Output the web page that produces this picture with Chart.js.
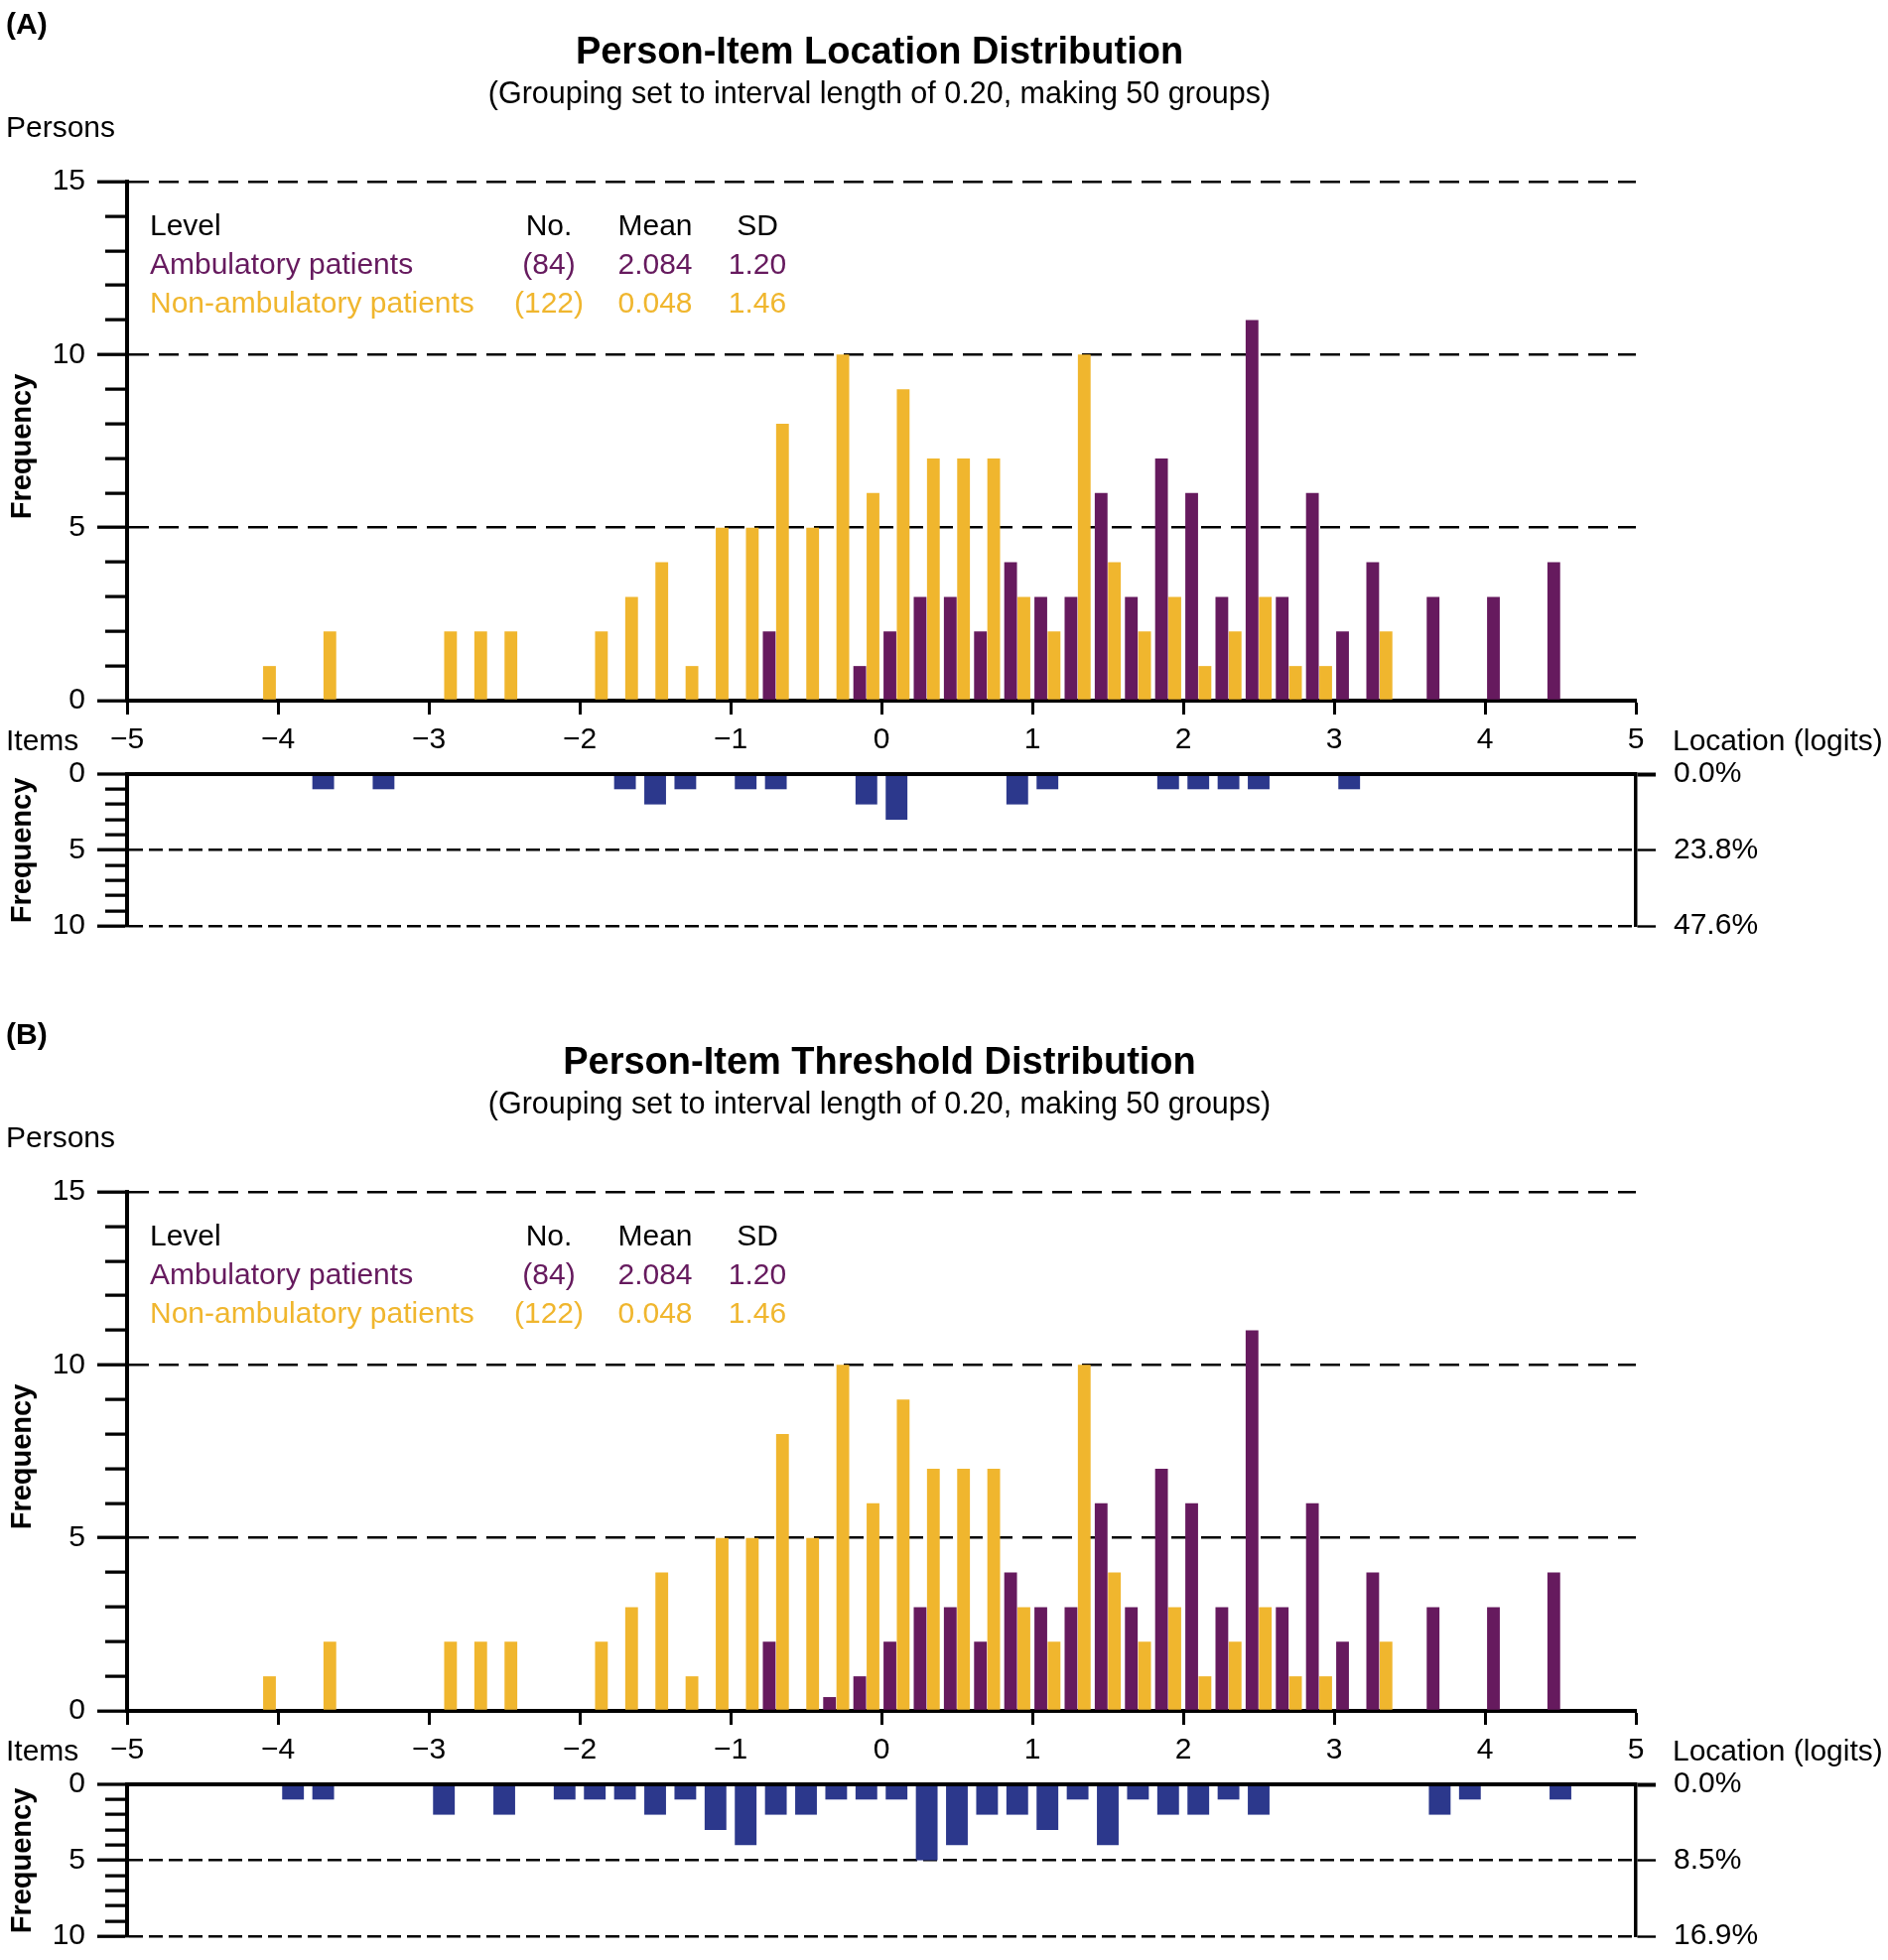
<!DOCTYPE html>
<html>
<head>
<meta charset="utf-8">
<title>Person-Item Distribution</title>
<script src="https://cdn.jsdelivr.net/npm/chart.js@4.4.1/dist/chart.umd.min.js"></script>
<style>
  body { margin: 0; background: #fff; }
  #page { position: relative; width: 1902px; height: 1975px; background: #fff; overflow: hidden;
          font-family: "Liberation Sans", Arial, Helvetica, sans-serif; color: #000; }
  .panel { position: absolute; left: 0; width: 1902px; height: 1018px; }
  .panel canvas { position: absolute; left: 0; }
  .t { position: absolute; white-space: nowrap; line-height: 1; transform: translateY(-50%); font-size: 30px; }
  .c { transform: translate(-50%, -50%); }
  .b { font-weight: bold; }
  .rot { font-weight: bold; font-size: 29px; transform: translate(-50%, -50%) rotate(-90deg); }
</style>
</head>
<body>
<div id="page"></div>
<script>
// 50 groups of 0.2 logits between -5 and 5 (group centres)
const bins = [-4.9, -4.7, -4.5, -4.3, -4.1, -3.9, -3.7, -3.5, -3.3, -3.1,
              -2.9, -2.7, -2.5, -2.3, -2.1, -1.9, -1.7, -1.5, -1.3, -1.1,
              -0.9, -0.7, -0.5, -0.3, -0.1, 0.1, 0.3, 0.5, 0.7, 0.9,
              1.1, 1.3, 1.5, 1.7, 1.9, 2.1, 2.3, 2.5, 2.7, 2.9,
              3.1, 3.3, 3.5, 3.7, 3.9, 4.1, 4.3, 4.5, 4.7, 4.9];

const ambulatoryA = [0, 0, 0, 0, 0, 0, 0, 0, 0, 0,
                     0, 0, 0, 0, 0, 0, 0, 0, 0, 0,
                     0, 2, 0, 0, 1, 2, 3, 3, 2, 4,
                     3, 3, 6, 3, 7, 6, 3, 11, 3, 6,
                     2, 4, 0, 3, 0, 3, 0, 4, 0, 0];
// same persons, panel B shows a small sliver at -0.3
const ambulatoryB = [0, 0, 0, 0, 0, 0, 0, 0, 0, 0,
                     0, 0, 0, 0, 0, 0, 0, 0, 0, 0,
                     0, 2, 0, 0.4, 1, 2, 3, 3, 2, 4,
                     3, 3, 6, 3, 7, 6, 3, 11, 3, 6,
                     2, 4, 0, 3, 0, 3, 0, 4, 0, 0];
const nonAmbulatory = [0, 0, 0, 0, 1, 0, 2, 0, 0, 0,
                       2, 2, 2, 0, 0, 2, 3, 4, 1, 5,
                       5, 8, 5, 10, 6, 9, 7, 7, 7, 3,
                       2, 10, 4, 2, 3, 1, 2, 3, 1, 1,
                       0, 2, 0, 0, 0, 0, 0, 0, 0, 0];

const itemsA = [0, 0, 0, 0, 0, 0, 1, 0, 1, 0,
                0, 0, 0, 0, 0, 0, 1, 2, 1, 0,
                1, 1, 0, 0, 2, 3, 0, 0, 0, 2,
                1, 0, 0, 0, 1, 1, 1, 1, 0, 0,
                1, 0, 0, 0, 0, 0, 0, 0, 0, 0];
const itemsB = [0, 0, 0, 0, 0, 1, 1, 0, 0, 0,
                2, 0, 2, 0, 1, 1, 1, 2, 1, 3,
                4, 2, 2, 1, 1, 1, 5, 4, 2, 2,
                3, 1, 4, 1, 2, 2, 1, 2, 0, 0,
                0, 0, 0, 2, 1, 0, 0, 1, 0, 0];

const pctA = ['0.0%', '23.8%', '47.6%'];
const pctB = ['0.0%', '8.5%', '16.9%'];

const groups = ['Ambulatory patients', 'Non-ambulatory patients'];
const groupN = ['(84)', '(122)'];
const groupMean = ['2.084', '0.048'];
const groupSD = ['1.20', '1.46'];

const PURPLE = '#661a5e';
const YELLOW = '#f0b62e';
const BLUE = '#2c388c';
const groupColors = [PURPLE, YELLOW];

Chart.defaults.font.family = '"Liberation Sans", Arial, Helvetica, sans-serif';
Chart.defaults.font.size = 30;
Chart.defaults.color = '#000';
Chart.defaults.animation = false;

const CLEAR = 'rgba(0,0,0,0)';
const isMajor = v => v % 5 === 0;
const logit = v => (v < 0 ? '\u2212' + Math.abs(v) : String(v));
// minor ticks are shorter: blank the outer part of the tick stroke
const tickDash = c => (c.tick && !isMajor(c.tick.value) ? [0, 8, 22, 0] : []);

function text(parent, str, cls, x, y, color) {
  const d = document.createElement('div');
  d.className = 't ' + (cls || '');
  d.textContent = str;
  d.style.left = x + 'px';
  d.style.top = y + 'px';
  if (color) d.style.color = color;
  parent.appendChild(d);
  return d;
}

function canvasAt(parent, top, height) {
  const cv = document.createElement('canvas');
  cv.width = 1902;
  cv.height = height;
  cv.style.top = top + 'px';
  parent.appendChild(cv);
  return cv;
}

function personsChart(canvas, amb, non) {
  return new Chart(canvas, {
    type: 'bar',
    data: {
      datasets: [
        { label: groups[0], data: bins.map((x, i) => ({ x, y: amb[i] })), backgroundColor: PURPLE },
        { label: groups[1], data: bins.map((x, i) => ({ x, y: non[i] })), backgroundColor: YELLOW },
      ],
    },
    options: {
      responsive: false,
      devicePixelRatio: 1,
      categoryPercentage: 0.88,
      barPercentage: 0.96,
      layout: { padding: { top: 183, right: 254, bottom: 0, left: 0 } },
      plugins: { legend: { display: false }, tooltip: { enabled: false } },
      scales: {
        x: {
          type: 'linear', min: -5, max: 5, offset: false, z: 1,
          afterFit: s => { s.height = 64; },
          ticks: { stepSize: 1, padding: 8, maxRotation: 0, autoSkip: false, callback: logit },
          grid: { offset: false, drawOnChartArea: false, tickLength: 14, tickWidth: 3, tickColor: '#000' },
          border: { color: '#000', width: 4 },
        },
        y: {
          min: 0, max: 15,
          afterFit: s => { s.width = 128; },
          ticks: { stepSize: 1, padding: 12, autoSkip: false, callback: v => (isMajor(v) ? v : '') },
          grid: {
            color: c => (c.tick && c.tick.value > 0 && isMajor(c.tick.value) ? '#000' : CLEAR),
            lineWidth: 2.4, tickLength: 30, tickWidth: 3.3, tickColor: '#000', tickBorderDash: tickDash,
          },
          border: { color: '#000', width: 4, dash: [20, 10] },
        },
      },
    },
  });
}

function itemsChart(canvas, items, pct) {
  return new Chart(canvas, {
    type: 'bar',
    data: {
      datasets: [{ label: 'Items', data: bins.map((x, i) => ({ x, y: items[i] })), backgroundColor: BLUE }],
    },
    options: {
      responsive: false,
      devicePixelRatio: 1,
      categoryPercentage: 1,
      barPercentage: 0.72,
      layout: { padding: { top: 50, right: 0, bottom: 50, left: 0 } },
      plugins: { legend: { display: false }, tooltip: { enabled: false } },
      scales: {
        x: { type: 'linear', min: -5, max: 5, offset: false, display: false, grid: { offset: false } },
        y: {
          position: 'left', min: 0, max: 10, reverse: true, z: 1,
          afterFit: s => { s.width = 128; },
          ticks: { stepSize: 1, padding: 12, autoSkip: false, callback: v => (isMajor(v) ? v : '') },
          grid: {
            color: c => (c.tick && isMajor(c.tick.value) ? '#000' : CLEAR),
            lineWidth: c => (c.tick && c.tick.value === 0 ? 4 : 2.4),
            tickLength: 30, tickWidth: 3.3, tickColor: '#000', tickBorderDash: tickDash,
          },
          border: { color: '#000', width: 4, dash: c => (c.tick && c.tick.value === 0 ? [] : [14, 6]) },
        },
        y2: {
          position: 'right', min: 0, max: 10, reverse: true,
          afterFit: s => { s.width = 254; },
          ticks: { stepSize: 5, padding: 18, autoSkip: false, callback: v => pct[v / 5] },
          grid: {
            drawOnChartArea: false, tickLength: 20, tickColor: '#000',
            tickWidth: c => (c.tick && c.tick.value === 0 ? 4 : 2.4),
          },
          border: { color: '#000', width: 3.5 },
        },
      },
    },
  });
}

function buildPanel(top, tag, title, amb, items, pct) {
  const p = document.createElement('div');
  p.className = 'panel';
  p.style.top = top + 'px';
  document.getElementById('page').appendChild(p);

  personsChart(canvasAt(p, 0, 770), amb, nonAmbulatory);
  // chart area runs from 780 to 933 inside the panel
  itemsChart(canvasAt(p, 730, 253), items, pct);

  text(p, tag, 'b', 6, 24);
  text(p, title, 'b c', 886, 51).style.fontSize = '38px';
  text(p, '(Grouping set to interval length of 0.20, making 50 groups)', 'c', 886, 93).style.fontSize = '30.5px';
  text(p, 'Persons', '', 6, 128);

  const rows = [227, 265.5, 304.5];
  text(p, 'Level', '', 151, rows[0]);
  text(p, 'No.', 'c', 553, rows[0]);
  text(p, 'Mean', 'c', 660, rows[0]);
  text(p, 'SD', 'c', 763, rows[0]);
  groups.forEach((g, i) => {
    const col = groupColors[i];
    text(p, g, '', 151, rows[i + 1], col);
    text(p, groupN[i], 'c', 553, rows[i + 1], col);
    text(p, groupMean[i], 'c', 660, rows[i + 1], col);
    text(p, groupSD[i], 'c', 763, rows[i + 1], col);
  });

  text(p, 'Frequency', 'rot', 21, 450);
  text(p, 'Frequency', 'rot', 21, 857);
  text(p, 'Items', '', 6, 746);
  text(p, 'Location (logits)', '', 1685, 746);
}

buildPanel(0, '(A)', 'Person-Item Location Distribution', ambulatoryA, itemsA, pctA);
buildPanel(1018, '(B)', 'Person-Item Threshold Distribution', ambulatoryB, itemsB, pctB);
</script>
</body>
</html>
